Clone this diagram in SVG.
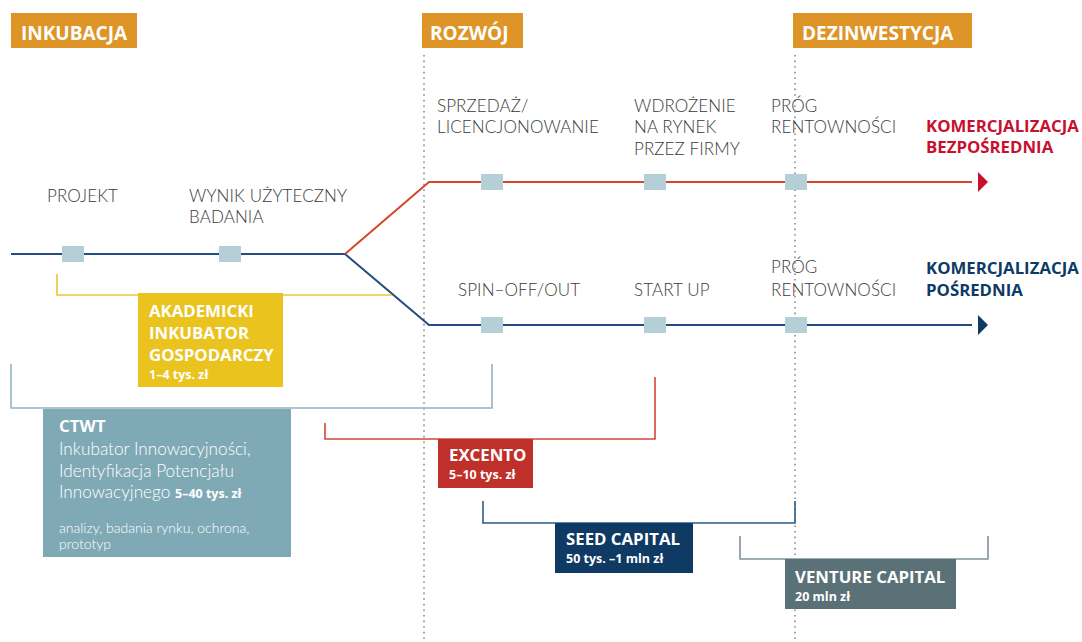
<svg xmlns="http://www.w3.org/2000/svg" width="1082" height="642" viewBox="0 0 1082 642">
<style>
.hdr{fill:#DE9427}
.hdrt{font-family:"Open Sans","Liberation Sans",sans-serif;font-weight:700;font-size:19px;fill:#fff}
.lbl{font-family:Lato,"Open Sans","Liberation Sans",sans-serif;font-weight:300;font-size:17px;fill:#3a3a3a;letter-spacing:0.1px}
.sq{fill:#B5CFD7}
.bt{font-family:"Open Sans","Liberation Sans",sans-serif;font-weight:700;font-size:16.8px;fill:#fff}
.st{font-family:"Open Sans","Liberation Sans",sans-serif;font-weight:700;font-size:12.5px;fill:#fff}
.lt{font-family:Lato,"Open Sans","Liberation Sans",sans-serif;font-weight:300;fill:#fff}
.dot{stroke:#8a8a8a;stroke-width:1.6;stroke-dasharray:1.6 4;fill:none}
.br{fill:none;stroke-width:1.6}
.kt{font-family:"Open Sans","Liberation Sans",sans-serif;font-weight:700;font-size:16.8px}
</style>

<g id="phases">
  <g id="phase-inkubacja"><rect class="hdr" x="11" y="13" width="126" height="35"/><text class="hdrt" x="21" y="40">INKUBACJA</text></g>
  <g id="phase-rozwoj"><rect class="hdr" x="422" y="13" width="101" height="35"/><text class="hdrt" x="430" y="40">ROZWÓJ</text></g>
  <g id="phase-dezinwestycja"><rect class="hdr" x="793" y="13" width="179" height="35"/><text class="hdrt" x="802" y="40">DEZINWESTYCJA</text></g>
</g>

<g id="dividers">
  <line class="dot" x1="424" y1="55" x2="424" y2="642"/>
  <line class="dot" x1="795" y1="55" x2="795" y2="642"/>
</g>

<g id="connectors">
  <polyline fill="none" stroke="#234C80" stroke-width="2" points="11,254 345,254 429,325 972,325"/>
  <polyline fill="none" stroke="#D4472B" stroke-width="2" points="345,254 429,182 972,182"/>
  <polygon fill="#C8102E" points="978,172 988,182 978,192"/>
  <polygon fill="#0D3B66" points="978,315 988,325 978,335"/>
  <polyline class="br" stroke="#EBC634" points="57,274 57,295 392,295"/>
  <polyline class="br" stroke="#93B5C4" points="11,364 11,408 492,408 492,364"/>
  <polyline class="br" stroke="#D0473A" points="325,423 325,439 655,439 655,377"/>
  <polyline class="br" stroke="#2F5A88" points="483,501 483,523 795,523 795,501"/>
  <polyline class="br" stroke="#7E929B" points="740,536 740,559 988,559 988,536"/>
</g>

<g id="milestones">
  <g id="m-projekt"><rect class="sq" x="62" y="246" width="22" height="16"/><text class="lbl" x="47" y="202">PROJEKT</text></g>
  <g id="m-wynik"><rect class="sq" x="219" y="246" width="22" height="16"/><text class="lbl" x="189" y="202">WYNIK UŻYTECZNY</text><text class="lbl" x="189" y="223">BADANIA</text></g>
  <g id="m-sprzedaz"><rect class="sq" x="481" y="174" width="22" height="16"/><text class="lbl" x="437" y="112">SPRZEDAŻ/</text><text class="lbl" x="437" y="133">LICENCJONOWANIE</text></g>
  <g id="m-wdrozenie"><rect class="sq" x="644" y="174" width="22" height="16"/><text class="lbl" x="634" y="112">WDROŻENIE</text><text class="lbl" x="634" y="133">NA RYNEK</text><text class="lbl" x="634" y="155">PRZEZ FIRMY</text></g>
  <g id="m-prog1"><rect class="sq" x="785" y="174" width="22" height="16"/><text class="lbl" x="771" y="112">PRÓG</text><text class="lbl" x="771" y="133">RENTOWNOŚCI</text></g>
  <g id="m-spinoff"><rect class="sq" x="481" y="317" width="22" height="16"/><text class="lbl" x="458" y="296">SPIN–OFF/OUT</text></g>
  <g id="m-startup"><rect class="sq" x="644" y="317" width="22" height="16"/><text class="lbl" x="634" y="296">START UP</text></g>
  <g id="m-prog2"><rect class="sq" x="785" y="317" width="22" height="16"/><text class="lbl" x="771" y="273">PRÓG</text><text class="lbl" x="771" y="296">RENTOWNOŚCI</text></g>
</g>

<g id="outcome-bezposrednia"><text class="kt" fill="#C8102E" x="926" y="132">KOMERCJALIZACJA</text><text class="kt" fill="#C8102E" x="926" y="153">BEZPOŚREDNIA</text></g>
<g id="outcome-posrednia"><text class="kt" fill="#0D3B66" x="926" y="274">KOMERCJALIZACJA</text><text class="kt" fill="#0D3B66" x="926" y="296">POŚREDNIA</text></g>

<g id="aig">
  <rect fill="#EAC31F" x="138" y="293" width="145" height="94"/>
  <text class="bt" x="149" y="317">AKADEMICKI</text>
  <text class="bt" x="149" y="339">INKUBATOR</text>
  <text class="bt" x="149" y="361">GOSPODARCZY</text>
  <text class="st" x="149" y="379">1–4 tys. zł</text>
</g>

<g id="ctwt">
  <rect fill="#80A9B6" x="43" y="409" width="248" height="148"/>
  <text class="bt" x="59" y="432">CTWT</text>
  <text class="lt" font-size="17.2" x="59" y="455">Inkubator Innowacyjności,</text>
  <text class="lt" font-size="17.2" x="59" y="477">Identyfikacja Potencjału</text>
  <text class="lt" font-size="17.2" x="59" y="498">Innowacyjnego <tspan class="st" font-size="13">5–40 tys. zł</tspan></text>
  <text class="lt" font-size="14" x="59" y="533">analizy, badania rynku, ochrona,</text>
  <text class="lt" font-size="14" x="59" y="549">prototyp</text>
</g>

<g id="excento">
  <rect fill="#C0302A" x="438" y="439" width="95" height="49"/>
  <text class="bt" x="449" y="461">EXCENTO</text>
  <text class="st" x="449" y="479">5–10 tys. zł</text>
</g>

<g id="seed">
  <rect fill="#0E3A63" x="555" y="523" width="138" height="50"/>
  <text class="bt" x="566" y="545">SEED CAPITAL</text>
  <text class="st" x="566" y="563">50 tys. –1 mln zł</text>
</g>

<g id="venture">
  <rect fill="#5A7177" x="785" y="559" width="171" height="50"/>
  <text class="bt" x="795" y="583">VENTURE CAPITAL</text>
  <text class="st" x="795" y="601">20 mln zł</text>
</g>
</svg>
